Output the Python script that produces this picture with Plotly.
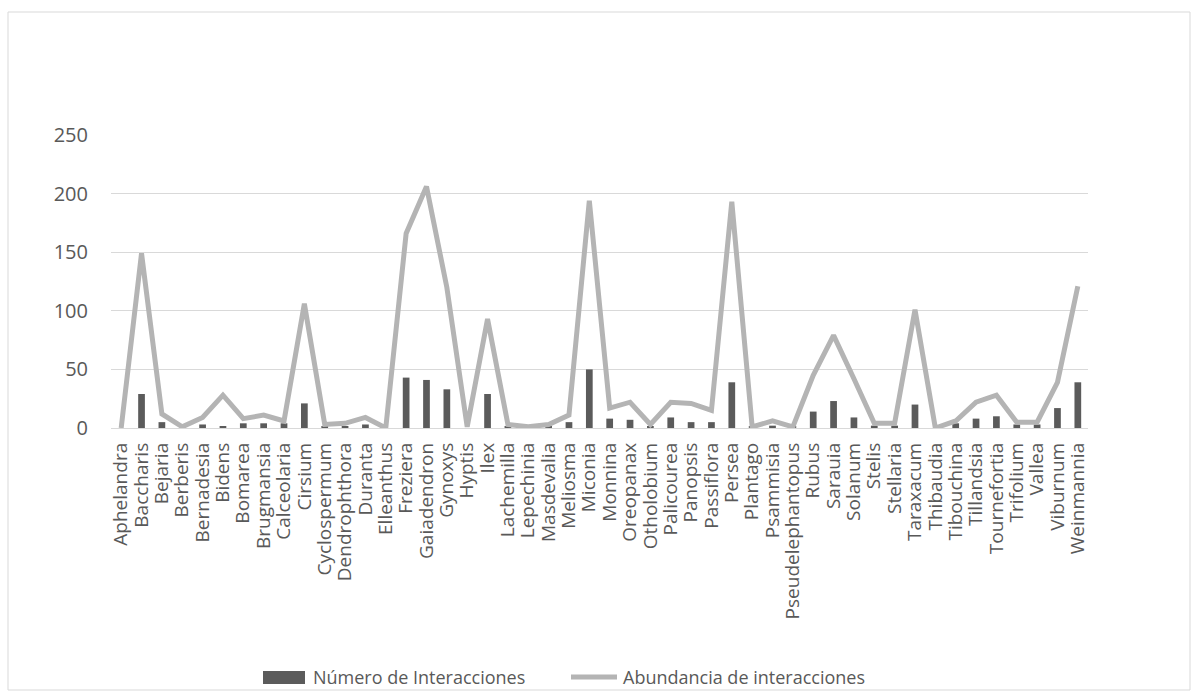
import plotly.graph_objects as go

# Géneros de plantas (eje categórico)
generos = [
    "Aphelandra", "Baccharis", "Bejaria", "Berberis", "Bernadesia", "Bidens",
    "Bomarea", "Brugmansia", "Calceolaria", "Cirsium", "Cyclospermum",
    "Dendrophthora", "Duranta", "Elleanthus", "Freziera", "Gaiadendron",
    "Gynoxys", "Hyptis", "Ilex", "Lachemilla", "Lepechinia", "Masdevalia",
    "Meliosma", "Miconia", "Monnina", "Oreopanax", "Otholobium", "Palicourea",
    "Panopsis", "Passiflora", "Persea", "Plantago", "Psammisia",
    "Pseudelephantopus", "Rubus", "Sarauia", "Solanum", "Stelis", "Stellaria",
    "Taraxacum", "Thibaudia", "Tibouchina", "Tillandsia", "Tournefortia",
    "Trifolium", "Vallea", "Viburnum", "Weinmannia",
]

# Número de interacciones por género (barras)
numero_interacciones = [
    0, 29, 5, 0, 3, 1, 4, 4, 4, 21, 1, 1, 3, 0, 43, 41,
    33, 0, 29, 1, 1, 1, 5, 50, 8, 7, 1, 9, 5, 5, 39, 1,
    2, 1, 14, 23, 9, 2, 2, 20, 0, 4, 8, 10, 3, 3, 17, 39,
]

# Abundancia de interacciones por género (línea)
abundancia_interacciones = [
    0, 149, 12, 1, 9, 28, 8, 11, 6, 106, 3, 4, 9, 0, 166, 206,
    120, 1, 93, 3, 1, 3, 11, 194, 17, 22, 3, 22, 21, 15, 193, 1,
    6, 1, 45, 79, 42, 4, 4, 101, 0, 6, 22, 28, 5, 5, 39, 121,
]

y_ticks = [0, 50, 100, 150, 200, 250]

W, H = 1199, 700
L, R, T, B = 111, 1088, 135, 428  # plot area in pixels

BAR_COLOR = "#5b5b5b"
LINE_COLOR = "#b4b4b4"
TEXT_COLOR = "#595959"
FONT = "Open Sans"


def px_x(x):
    return (x - L) / (R - L)


def px_y(y):
    return (B - y) / (B - T)


fig = go.Figure()
fig.add_trace(go.Bar(
    x=generos, y=numero_interacciones, name="Número de Interacciones",
    marker=dict(color=BAR_COLOR, line=dict(width=0)),
))
fig.add_trace(go.Scatter(
    x=generos, y=abundancia_interacciones, name="Abundancia de interacciones",
    mode="lines", line=dict(color=LINE_COLOR, width=5),
))

shapes = [
    # chart frame
    dict(type="rect", xref="paper", yref="paper",
         x0=px_x(8), x1=px_x(1190), y0=px_y(690), y1=px_y(12),
         line=dict(color="#d9d9d9", width=1), fillcolor="rgba(0,0,0,0)",
         layer="below"),
    # legend swatch: bars
    dict(type="rect", xref="paper", yref="paper",
         x0=px_x(263), x1=px_x(305), y0=px_y(684), y1=px_y(671),
         line=dict(width=0), fillcolor=BAR_COLOR),
    # legend swatch: line
    dict(type="line", xref="paper", yref="paper",
         x0=px_x(571), x1=px_x(617), y0=px_y(677), y1=px_y(677),
         line=dict(color=LINE_COLOR, width=5)),
]

annotations = [
    dict(text="Número de Interacciones", xref="paper", yref="paper",
         x=px_x(311), y=px_y(677), xanchor="left", yanchor="middle",
         showarrow=False, font=dict(family=FONT, size=18, color=TEXT_COLOR)),
    dict(text="Abundancia de interacciones", xref="paper", yref="paper",
         x=px_x(621), y=px_y(677), xanchor="left", yanchor="middle",
         showarrow=False, font=dict(family=FONT, size=18, color=TEXT_COLOR)),
]

fig.update_layout(
    width=W, height=H,
    margin=dict(l=L, r=W - R, t=T, b=H - B, autoexpand=False),
    paper_bgcolor="white", plot_bgcolor="white",
    showlegend=False,
    bargap=0.67,
    font=dict(family=FONT, color=TEXT_COLOR),
    shapes=shapes,
    annotations=annotations,
    xaxis=dict(
        type="category", tickangle=-90, showgrid=False, showline=False,
        tickmode="array", tickvals=generos, ticktext=generos,
        ticks="", tickfont=dict(family=FONT, size=19, color=TEXT_COLOR),
        zeroline=False, ticklabelstandoff=10,
    ),
    yaxis=dict(
        range=[0, 250], tickvals=y_ticks, showgrid=True, gridcolor="#d9d9d9",
        gridwidth=1, zeroline=True, zerolinecolor="#d9d9d9", zerolinewidth=1,
        showline=False, ticks="", ticklabelstandoff=22,
        tickfont=dict(family=FONT, size=20, color=TEXT_COLOR),
    ),
)

fig.write_html("out.html")
